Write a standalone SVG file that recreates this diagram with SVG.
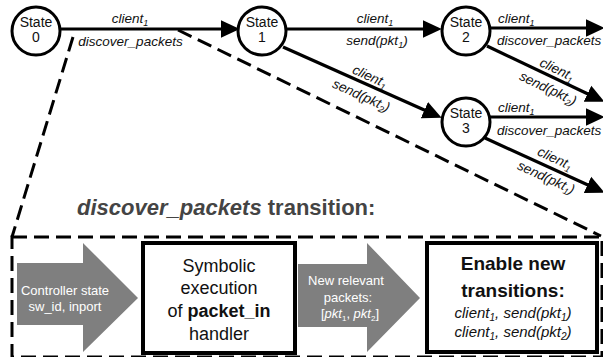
<svg xmlns="http://www.w3.org/2000/svg" width="603" height="357" viewBox="0 0 603 357">
<style>
.st{fill:#fff;stroke:#000;stroke-width:3}
.sl{font-family:"Liberation Sans",Arial,sans-serif;font-size:14px;fill:#111;text-anchor:middle}
.el{font-family:"Liberation Sans",Arial,sans-serif;font-size:13.5px;font-style:italic;fill:#111}
.m{text-anchor:middle}
.edge{stroke:#000;stroke-width:3.2;fill:none;marker-end:url(#ah)}
.dash{stroke:#000;stroke-width:3;fill:none;stroke-dasharray:15 7}
.garrow{fill:#7f7f7f}
.wt{font-family:"Liberation Sans",Arial,sans-serif;font-size:13px;fill:#fff;text-anchor:middle}
.box{fill:#fff;stroke:#000;stroke-width:4}
.bt{font-family:"Liberation Sans",Arial,sans-serif;font-size:18px;fill:#111;text-anchor:middle}
.bb{font-family:"Liberation Sans",Arial,sans-serif;font-size:19px;font-weight:bold;fill:#111;text-anchor:middle}
.bi{font-family:"Liberation Sans",Arial,sans-serif;font-size:15px;font-style:italic;fill:#111;text-anchor:middle}
.title{font-family:"Liberation Sans",Arial,sans-serif;font-size:22px;font-weight:bold;fill:#444}
</style>
<defs>
<marker id="ah" markerUnits="userSpaceOnUse" markerWidth="20" markerHeight="20" viewBox="0 -9 18 18" refX="1" refY="0" orient="auto">
<path d="M0,-8 L17,0 L0,8 z" fill="#000"/>
</marker>
</defs>

<g id="zoom-lines">
<line class="dash" x1="73" y1="37" x2="12" y2="237"/>
<line class="dash" x1="178" y1="30" x2="601" y2="236"/>
</g>

<g id="connectors">
<line class="edge" x1="60" y1="29" x2="222" y2="29"/>
<line class="edge" x1="286" y1="29" x2="424" y2="29"/>
<line class="edge" x1="490" y1="28" x2="587" y2="28"/>
<line class="edge" x1="283" y1="47" x2="425.4" y2="110.5"/>
<line class="edge" x1="487" y1="46" x2="588.5" y2="94.2"/>
<line class="edge" x1="490" y1="117" x2="587" y2="117"/>
<line class="edge" x1="485" y1="138" x2="588.5" y2="185.3"/>
</g>

<g id="edge-labels">
<text class="el m" x="130" y="23">client<tspan dy="3" font-size="9">1</tspan></text>
<text class="el m" x="130.5" y="46">discover_packets</text>
<text class="el m" x="375" y="23">client<tspan dy="3" font-size="9">1</tspan></text>
<text class="el m" x="377" y="45">send(pkt<tspan dy="3" font-size="9">1</tspan><tspan dy="-3">)</tspan></text>
<text class="el" x="498" y="23">client<tspan dy="3" font-size="9">1</tspan></text>
<text class="el" x="497" y="45">discover_packets</text>
<text class="el" x="498" y="112">client<tspan dy="3" font-size="9">1</tspan></text>
<text class="el" x="497" y="135">discover_packets</text>
<g transform="translate(366,85) rotate(24.3)">
<text class="el m" x="0" y="-5">client<tspan dy="3" font-size="9">1</tspan></text>
<text class="el m" x="0" y="16">send(pkt<tspan dy="3" font-size="9">2</tspan><tspan dy="-3">)</tspan></text>
</g>
<g transform="translate(553,78) rotate(25.4)">
<text class="el m" x="0" y="-5">client<tspan dy="3" font-size="9">1</tspan></text>
<text class="el m" x="0" y="16">send(pkt<tspan dy="3" font-size="9">2</tspan><tspan dy="-3">)</tspan></text>
</g>
<g transform="translate(551,167) rotate(24.6)">
<text class="el m" x="0" y="-5">client<tspan dy="3" font-size="9">1</tspan></text>
<text class="el m" x="0" y="16">send(pkt<tspan dy="3" font-size="9">1</tspan><tspan dy="-3">)</tspan></text>
</g>
</g>

<g id="state0">
<circle class="st" cx="36" cy="31" r="24"/>
<text class="sl" x="36" y="27">State</text>
<text class="sl" x="36" y="42">0</text>
</g>
<g id="state1">
<circle class="st" cx="262" cy="31" r="24"/>
<text class="sl" x="262" y="27">State</text>
<text class="sl" x="262" y="42">1</text>
</g>
<g id="state2">
<circle class="st" cx="466" cy="31" r="24"/>
<text class="sl" x="466" y="27">State</text>
<text class="sl" x="466" y="42">2</text>
</g>
<g id="state3">
<circle class="st" cx="466" cy="122" r="24"/>
<text class="sl" x="466" y="118">State</text>
<text class="sl" x="466" y="133">3</text>
</g>

<g id="title">
<text class="title" x="77" y="215"><tspan font-style="italic">discover_packets</tspan> transition:</text>
</g>

<g id="frame">
<rect class="dash" x="12" y="237" width="590" height="120"/>
</g>

<g id="controller-state">
<polygon class="garrow" points="17,263 83,263 83,243 138,298 83,352 83,325 17,325"/>
<text class="wt" x="65" y="295">Controller state</text>
<text class="wt" x="65" y="311">sw_id, inport</text>
</g>

<g id="symbolic-execution">
<rect class="box" x="143" y="243" width="152" height="110"/>
<text class="bt" x="219" y="272">Symbolic</text>
<text class="bt" x="219" y="294">execution</text>
<text class="bt" x="219" y="317">of <tspan font-weight="bold">packet_in</tspan></text>
<text class="bt" x="219" y="340">handler</text>
</g>

<g id="new-packets">
<polygon class="garrow" points="298,264 367,264 367,243 420,298 367,352 367,327 298,327"/>
<text class="wt" x="346" y="285" font-size="12">New relevant</text>
<text class="wt" x="348" y="302" font-size="12">packets:</text>
<text class="wt" x="350" y="318" font-size="12">[<tspan font-style="italic">pkt</tspan><tspan dy="3" font-size="8">1</tspan><tspan dy="-3">, </tspan><tspan font-style="italic">pkt</tspan><tspan dy="3" font-size="8">2</tspan><tspan dy="-3">]</tspan></text>
</g>

<g id="enable-transitions">
<rect class="box" x="427" y="243" width="170" height="109"/>
<text class="bb" x="513" y="270">Enable new</text>
<text class="bb" x="513" y="297">transitions:</text>
<text class="bi" x="513" y="318">client<tspan dy="3" font-size="10">1</tspan><tspan dy="-3">, send(pkt</tspan><tspan dy="3" font-size="10">1</tspan><tspan dy="-3">)</tspan></text>
<text class="bi" x="513" y="337">client<tspan dy="3" font-size="10">1</tspan><tspan dy="-3">, send(pkt</tspan><tspan dy="3" font-size="10">2</tspan><tspan dy="-3">)</tspan></text>
</g>
</svg>
